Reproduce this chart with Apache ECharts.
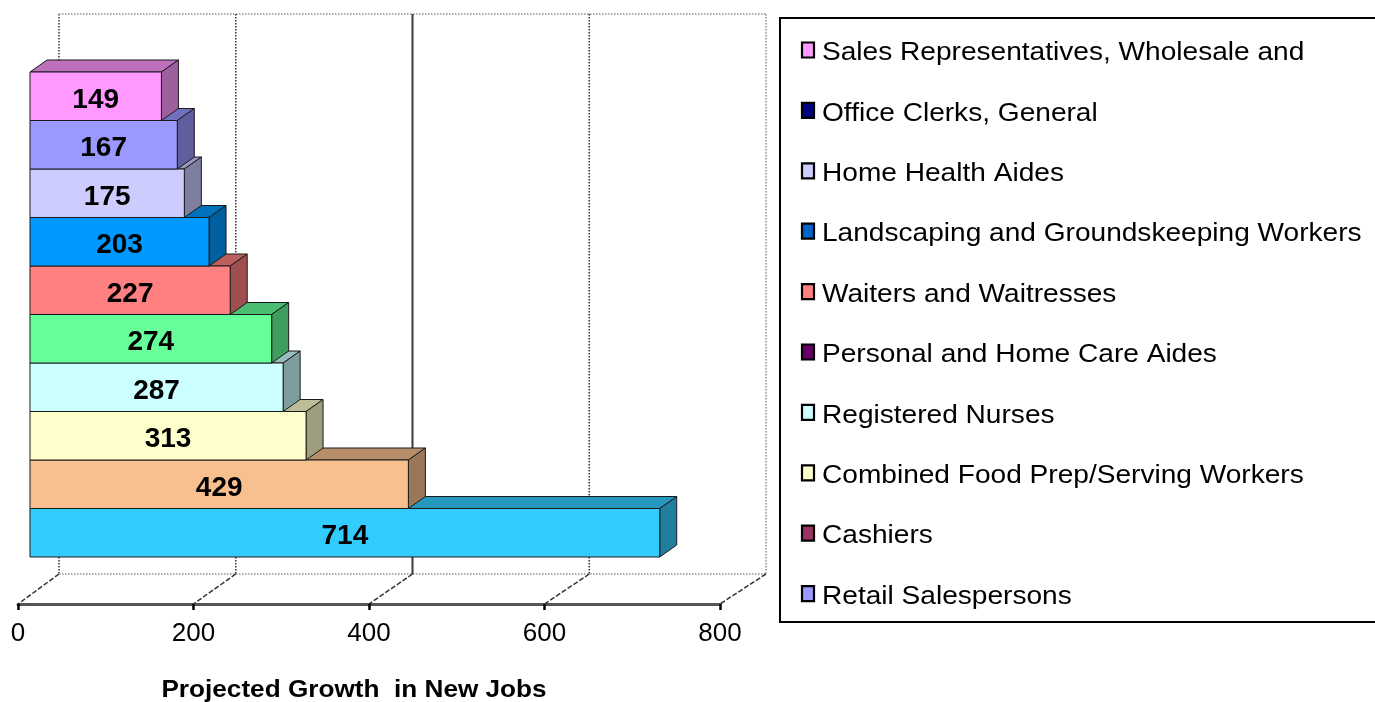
<!DOCTYPE html>
<html><head><meta charset="utf-8">
<script src="https://cdn.jsdelivr.net/npm/echarts@6/dist/echarts.min.js"></script>
<style>html,body{margin:0;padding:0;background:#fff;}#c{width:1375px;height:702px;}</style>
</head><body><div id="c"></div>
<script>
// ---- data (bottom bar first) ----
const categories = [
  'Retail Salespersons',
  'Cashiers',
  'Combined Food Prep/Serving Workers',
  'Registered Nurses',
  'Personal and Home Care Aides',
  'Waiters and Waitresses',
  'Landscaping and Groundskeeping Workers',
  'Home Health Aides',
  'Office Clerks, General',
  'Sales Representatives, Wholesale and'
];
const jobGrowth = [714, 429, 313, 287, 274, 227, 203, 175, 167, 149];
const tickValues = [0, 200, 400, 600, 800];
const axisTitle = 'Projected Growth  in New Jobs';

// ---- styles ----
const barColors = ['#33CCFF', '#F9C08F', '#FFFFCC', '#CCFFFF', '#66FF99', '#FF8080', '#0099FF', '#CCCCFF', '#9999FF', '#FF99FF'];
const legendColors = ['#9999FF', '#993366', '#FFFFCC', '#CCFFFF', '#660066', '#FF8080', '#0066CC', '#CCCCFF', '#000080', '#FF99FF'];
const FONT = '"Liberation Sans", Arial, sans-serif';

function shade(hex, f) {
  const n = parseInt(hex.slice(1), 16);
  const r = Math.round(((n >> 16) & 255) * f), g = Math.round(((n >> 8) & 255) * f), b = Math.round((n & 255) * f);
  return 'rgb(' + r + ',' + g + ',' + b + ')';
}

const DX = 17, DY = 12; // bar depth
function renderBar(params, api) {
  const v = api.value(0), c = api.value(1);
  const p0 = api.coord([tickValues[0], c]), p1 = api.coord([v, c]);
  const h = api.size([0, 1])[1];
  const x0 = p0[0], x1 = p1[0], yT = p0[1] - h / 2, yB = p0[1] + h / 2;
  const col = barColors[params.dataIndex];
  const st = { stroke: '#1a1a1a', lineWidth: 1 };
  return {
    type: 'group', children: [
      { type: 'polygon', shape: { points: [[x0, yT], [x1, yT], [x1 + DX, yT - DY], [x0 + DX, yT - DY]] }, style: Object.assign({ fill: shade(col, 0.74) }, st) },
      { type: 'polygon', shape: { points: [[x1, yT], [x1 + DX, yT - DY], [x1 + DX, yB - DY], [x1, yB]] }, style: Object.assign({ fill: shade(col, 0.62) }, st) },
      { type: 'rect', shape: { x: x0, y: yT, width: x1 - x0, height: yB - yT }, style: Object.assign({ fill: col }, st) },
      { type: 'text', x: (x0 + x1) / 2, y: (yT + yB) / 2 + 4, style: { text: String(v), font: 'bold 28px ' + FONT, fill: '#000', align: 'center', verticalAlign: 'middle' } }
    ]
  };
}

function renderWall(params, api) {
  const v = api.value(0);
  const first = tickValues[0], last = tickValues[tickValues.length - 1];
  const top = api.coord([v, 1]), bot = api.coord([v, 0]);
  const frac = (v - first) / (last - first);
  const fx = bot[0] - 41 - frac * 5, fy = bot[1] + 30;
  let vStyle;
  if (v === 400) vStyle = { stroke: '#3a3a3a', lineWidth: 2 };
  else if (v === last) vStyle = { stroke: '#aaaaaa', lineWidth: 2, lineDash: [1.5, 1.5] };
  else vStyle = { stroke: '#333', lineWidth: 1.5, lineDash: [1.5, 1.5] };
  const children = [
    { type: 'line', shape: { x1: top[0], y1: top[1], x2: bot[0], y2: bot[1] }, style: vStyle },
    { type: 'line', shape: { x1: bot[0], y1: bot[1], x2: fx, y2: fy }, style: { stroke: '#333', lineWidth: 1.5, lineDash: [5, 2] } }
  ];
  if (params.dataIndex === 0) {
    const tl = api.coord([first, 1]), tr = api.coord([last, 1]);
    const bl = api.coord([first, 0]), br = api.coord([last, 0]);
    children.push({ type: 'line', shape: { x1: tl[0], y1: tl[1], x2: tr[0], y2: tr[1] }, style: { stroke: '#aaa', lineWidth: 2, lineDash: [1.5, 1.5] } });
    children.push({ type: 'line', shape: { x1: bl[0], y1: bl[1], x2: br[0], y2: br[1] }, style: { stroke: '#aaa', lineWidth: 2, lineDash: [1.5, 1.5] } });
  }
  return { type: 'group', children: children };
}

// legend + title graphics
const graphics = [
  { type: 'rect', shape: { x: 780, y: 18, width: 620, height: 604 }, style: { fill: 'none', stroke: '#000', lineWidth: 2 } }
];
categories.forEach(function (name, i) {
  const row = categories.length - 1 - i;
  const yc = 50 + row * 60.4;
  graphics.push({ type: 'rect', shape: { x: 802, y: yc - 7.5, width: 12, height: 15 }, style: { fill: legendColors[i], stroke: '#000', lineWidth: 2.2 } });
  graphics.push({ type: 'text', x: 822, y: yc + 3, scaleX: 1.08, style: { text: name, font: '26px ' + FONT, fill: '#000', verticalAlign: 'middle' } });
});
graphics.push({ type: 'text', x: 354, y: 690, scaleX: 1.09, style: { text: axisTitle, font: 'bold 24px ' + FONT, fill: '#000', align: 'center', verticalAlign: 'middle' } });

const chart = echarts.init(document.getElementById('c'), null, { renderer: 'canvas' });
chart.setOption({
  animation: false,
  backgroundColor: '#fff',
  grid: [
    { left: 30, width: 705.6, top: 72, height: 485 },      // bars (mid-depth plane)
    { left: 18, width: 702, top: 560, bottom: 98 },         // front axis
    { left: 59, width: 707, top: 14, height: 560 }          // back wall
  ],
  xAxis: [
    { gridIndex: 0, type: 'value', min: tickValues[0], max: tickValues[tickValues.length - 1], interval: tickValues[1] - tickValues[0], show: false },
    {
      gridIndex: 1, type: 'value', min: tickValues[0], max: tickValues[tickValues.length - 1], interval: tickValues[1] - tickValues[0],
      axisLine: { show: true, lineStyle: { color: '#555', width: 3 } },
      axisTick: { show: true, length: 6, lineStyle: { color: '#000', width: 2.5 } },
      axisLabel: { fontSize: 26, color: '#000', fontFamily: FONT, margin: 17 },
      splitLine: { show: false }
    },
    { gridIndex: 2, type: 'value', min: tickValues[0], max: tickValues[tickValues.length - 1], interval: tickValues[1] - tickValues[0], show: false }
  ],
  yAxis: [
    { gridIndex: 0, type: 'category', data: categories, show: false },
    { gridIndex: 1, type: 'value', show: false },
    { gridIndex: 2, type: 'value', min: 0, max: 1, show: false }
  ],
  series: [
    { type: 'custom', xAxisIndex: 2, yAxisIndex: 2, data: tickValues.map(function (v) { return [v, 0]; }), renderItem: renderWall, clip: false, z: 1, silent: true },
    { type: 'custom', xAxisIndex: 0, yAxisIndex: 0, data: jobGrowth.map(function (v, i) { return [v, i]; }), encode: { x: 0, y: 1 }, renderItem: renderBar, clip: false, z: 5 }
  ],
  graphic: graphics
});
</script>
</body></html>
